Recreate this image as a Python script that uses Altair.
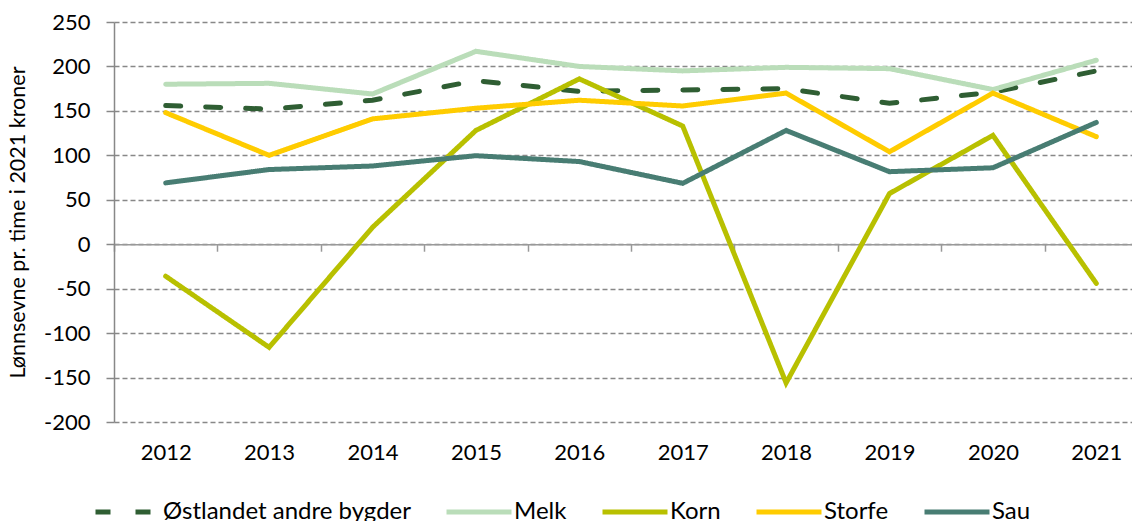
import altair as alt
import pandas as pd

years = ["2012", "2013", "2014", "2015", "2016", "2017", "2018", "2019", "2020", "2021"]
series_names = ["Østlandet andre bygder", "Melk", "Korn", "Storfe", "Sau"]
ostlandet = [156, 152, 162, 184, 172, 173.5, 175, 158.5, 171, 195]
melk = [180, 181, 169, 217, 200, 195, 199, 197.5, 174, 207]
korn = [-36, -116, 19, 128, 186, 133, -156, 57, 122.5, -44]
storfe = [148, 100, 141, 153, 162, 155.5, 170, 104, 170, 121]
sau = [69, 84, 88, 99.6, 93, 68.5, 128, 81.6, 86, 137]
y_ticks = [-200, -150, -100, -50, 0, 50, 100, 150, 200, 250]

colors = ["#2F5E33", "#BADDB9", "#B8C000", "#FFCC00", "#487D73"]
dashes = [[15, 25], [1, 0], [1, 0], [1, 0], [1, 0]]

values = [ostlandet, melk, korn, storfe, sau]
rows = []
for name, vals in zip(series_names, values):
    for yr, v in zip(years, vals):
        rows.append({"year": yr, "series": name, "value": v})
df = pd.DataFrame(rows)

FONT = "Lato"

lines = alt.Chart(df).mark_line(strokeWidth=5, strokeCap="round").encode(
    x=alt.X(
        "year:O",
        bandPosition=0.5,
        scale=alt.Scale(type="band", paddingInner=0, paddingOuter=0, range=[0, 1034]),
        axis=alt.Axis(
            title=None,
            tickBand="extent",
            offset=-177.78,
            domainColor="#999999",
            domainWidth=1.5,
            tickColor="#999999",
            tickSize=7,
            tickWidth=1.5,
            labelPadding=191,
            labelFont=FONT,
            labelFontSize=22,
            labelColor="#000000",
            labelAngle=0,
            grid=False,
        ),
    ),
    y=alt.Y(
        "value:Q",
        scale=alt.Scale(domain=[-200, 250], nice=False, zero=False),
        axis=alt.Axis(
            values=y_ticks,
            labelExpr="'' + datum.value",
            title="Lønnsevne pr. time i 2021 kroner",
            titleFont=FONT,
            titleFontSize=21.5,
            titleFontWeight="normal",
            titleColor="#000000",
            titleAngle=-90,
            titleX=-96,
            titleY=200,
            titleAlign="center",
            titleBaseline="middle",
            labelFont=FONT,
            labelFontSize=22,
            labelColor="#000000",
            labelPadding=16,
            domainColor="#888888",
            domainWidth=1.5,
            tickColor="#888888",
            tickSize=8,
            tickWidth=1.5,
            grid=True,
            gridColor="#888888",
            gridDash=[5, 3],
            gridWidth=1.3,
        ),
    ),
    color=alt.Color(
        "series:N",
        scale=alt.Scale(domain=series_names, range=colors),
        sort=series_names,
        legend=alt.Legend(title=None),
    ),
    strokeDash=alt.StrokeDash(
        "series:N",
        scale=alt.Scale(domain=series_names, range=dashes),
        sort=series_names,
        legend=alt.Legend(title=None),
    ),
)

chart = lines.properties(
    width=1018,
    height=400,
    autosize=alt.AutoSizeParams(type="none"),
    padding={"left": 106, "top": 14, "right": 0, "bottom": 99},
).configure_view(stroke=None).configure_legend(
    orient="none",
    legendX=-21,
    legendY=455,
    direction="horizontal",
    symbolType="stroke",
    symbolSize=4225,
    symbolStrokeWidth=5,
    labelFont=FONT,
    labelFontSize=24,
    labelColor="#000000",
    labelOffset=0,
    labelLimit=500,
    columnPadding=25,
    padding=0,
    columns=5,
)

chart.save("out.html", embed_options={"renderer": "svg", "actions": False})
